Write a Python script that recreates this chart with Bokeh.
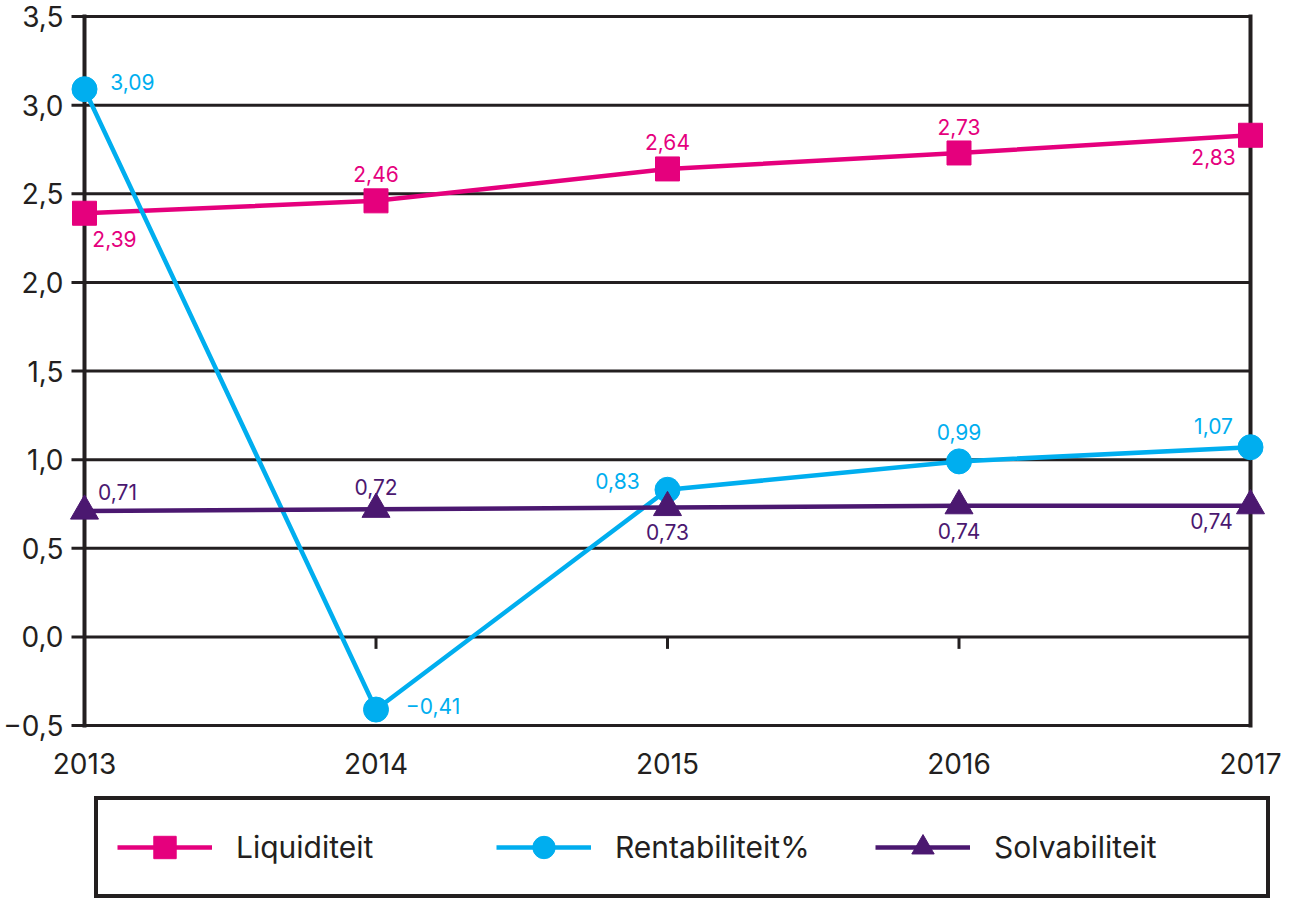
from bokeh.plotting import figure
from bokeh.models import FixedTicker, Legend, LegendItem, Range1d
from bokeh.embed import file_html
from bokeh.resources import INLINE
from bokeh.core.properties import value

# ---------------- data ----------------
years = [2013, 2014, 2015, 2016, 2017]
liquiditeit = [2.39, 2.46, 2.64, 2.73, 2.83]
rentabiliteit = [3.09, -0.41, 0.83, 0.99, 1.07]
solvabiliteit = [0.71, 0.72, 0.73, 0.74, 0.74]
series_names = ["Liquiditeit", "Rentabiliteit%", "Solvabiliteit"]
y_ticks = [-0.5, 0.0, 0.5, 1.0, 1.5, 2.0, 2.5, 3.0, 3.5]

# ---------------- style / layout ----------------
FONT = "Inter"
INK = "#231F20"
colors = ["#E5007D", "#00AEEF", "#4B1870"]
markers = ["square", "circle", "triangle"]
marker_sizes = [24, 25, 28]
# data-label offsets in px (dx to the right, dy upwards)
label_offsets = [
    [(30, -26), (0, 27), (0, 27), (0, 26), (-37, -22)],
    [(48, 7), (57, 4), (-50, 9), (0, 29), (-37, 21)],
    [(33, 19), (0, 22), (0, -25), (0, -25), (-39, -15)],
]

W, H = 1287, 900
PX_PER_YEAR = 291.5
PX_PER_UNIT = 177.25
LEFT_PX = 84        # canvas x of the first year
RIGHT_PX = 37       # canvas px right of the last year
TOP_PX = 16         # canvas y of the top grid line
TICK_OUT = 13       # outer tick length on the left (px)
tick_len = 12 / PX_PER_UNIT
span_px = (y_ticks[-1] - y_ticks[0]) * PX_PER_UNIT

x0 = years[0] - LEFT_PX / PX_PER_YEAR
x1 = years[-1] + RIGHT_PX / PX_PER_YEAR
y1 = y_ticks[-1] + TOP_PX / PX_PER_UNIT
y0 = y_ticks[0] - (H - TOP_PX - span_px) / PX_PER_UNIT
axis_x = years[0] - TICK_OUT / PX_PER_YEAR


def fmt(v, decimals):
    return f"{v:.{decimals}f}".replace(".", ",").replace("-", "\u2212")


p = figure(
    width=W, height=H,
    x_range=Range1d(x0, x1), y_range=Range1d(y0, y1),
    output_backend="svg", toolbar_location=None,
    min_border=0, min_border_left=0, min_border_right=0,
    min_border_top=0, min_border_bottom=0,
    background_fill_color="white", border_fill_color="white",
)
p.outline_line_color = None
p.xgrid.visible = False
p.ygrid.visible = False

# grid lines (starting left of the frame so they form the outer ticks) and frame sides
p.segment(x0=[axis_x] * len(y_ticks), y0=y_ticks,
          x1=[years[-1]] * len(y_ticks), y1=y_ticks,
          line_color=INK, line_width=3)
p.segment(x0=[years[0], years[-1]], y0=[y_ticks[0]] * 2,
          x1=[years[0], years[-1]], y1=[y_ticks[-1]] * 2,
          line_color=INK, line_width=4, line_cap="square")
# small ticks on the zero line
inner = years[1:-1]
p.segment(x0=inner, y0=[0] * len(inner), x1=inner, y1=[-tick_len] * len(inner),
          line_color=INK, line_width=3)

# axes (fixed inside the canvas)
yax = p.yaxis[0]
yax.fixed_location = axis_x
yax.ticker = FixedTicker(ticks=y_ticks)
yax.major_label_overrides = {t: fmt(t, 1) for t in y_ticks}
yax.axis_line_color = None
yax.major_tick_line_color = None
yax.minor_tick_line_color = None
yax.major_label_standoff = 2
yax.major_label_text_font = FONT
yax.major_label_text_font_size = "28px"
yax.major_label_text_color = INK

xax = p.xaxis[0]
xax.fixed_location = y_ticks[0]
xax.ticker = FixedTicker(ticks=years)
xax.major_label_overrides = {y: str(y) for y in years}
xax.axis_line_color = None
xax.major_tick_line_color = None
xax.minor_tick_line_color = None
xax.major_label_standoff = 21
xax.major_label_text_font = FONT
xax.major_label_text_font_size = "28px"
xax.major_label_text_color = INK

# series
items = []
for name, vals, col, mk, ms, offs in zip(series_names,
                                          [liquiditeit, rentabiliteit, solvabiliteit],
                                          colors, markers, marker_sizes, label_offsets):
    ln = p.line(years, vals, line_color=col, line_width=4.5)
    sc = p.scatter(years, vals, marker=mk, size=ms, fill_color=col, line_color=col)
    p.text(x=years, y=vals, text=[fmt(v, 2) for v in vals],
           x_offset=[o[0] for o in offs], y_offset=[-o[1] for o in offs],
           text_align="center", text_baseline="middle",
           text_font=value(FONT), text_font_size="21px", text_color=col)
    items.append(LegendItem(label=name, renderers=[ln, sc]))

legend = Legend(
    items=items, orientation="horizontal",
    location=(94, 2), margin=0, padding=19, spacing=7,
    glyph_width=95, glyph_height=56, label_standoff=24, label_width=253,
    label_text_font=FONT, label_text_font_size="30px", label_text_color=INK,
    border_line_color=INK, border_line_width=4, border_line_alpha=1.0,
    background_fill_color="white", background_fill_alpha=1.0,
)
p.add_layout(legend, "center")

open("out.html", "w").write(file_html(p, INLINE))
